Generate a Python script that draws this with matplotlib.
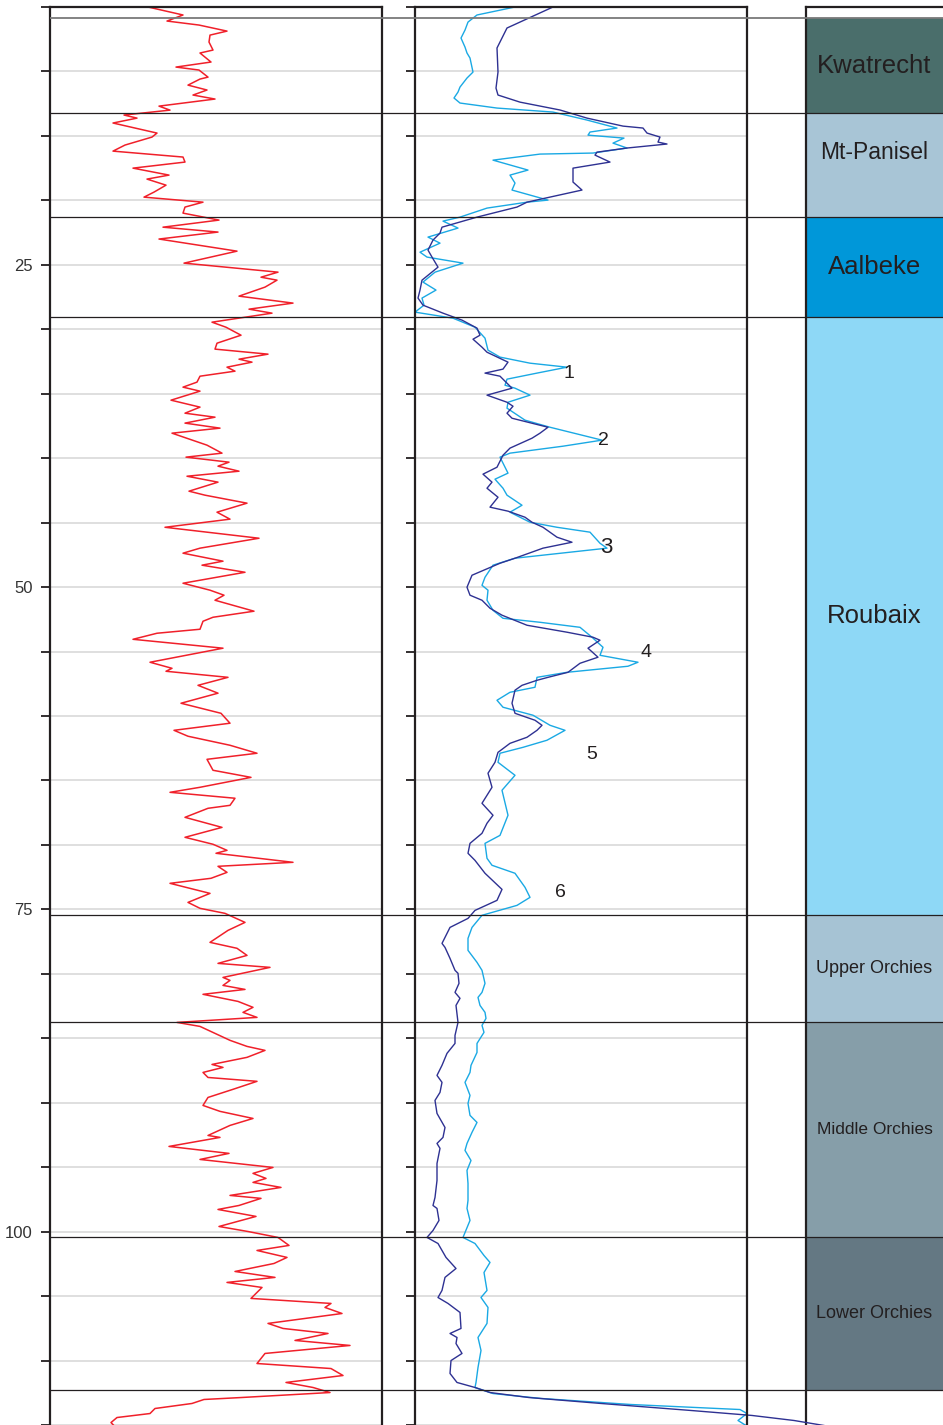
import numpy as np
import matplotlib.pyplot as plt

# Depth (m) and readings of the gamma-ray type log (left track)
red_depth = [5.00, 5.62, 6.09, 6.40, 6.87, 7.18, 7.72, 8.34, 8.57, 9.27, 9.66, 9.89, 10.44, 10.59,
             11.06, 11.44, 11.83, 12.14, 12.69, 13.00, 13.38, 13.62, 14.00, 14.78, 15.09, 15.71,
             16.18, 16.64, 17.03, 17.50, 18.04, 18.35, 18.82, 19.36, 19.75, 20.14, 20.52, 20.99,
             21.53, 22.08, 22.46, 23.00, 23.94, 24.87, 25.57, 25.96, 26.19, 26.73, 27.43, 27.97,
             28.44, 28.75, 29.45, 29.84, 30.46, 31.08, 31.54, 31.93, 32.32, 32.55, 32.94, 33.25,
             33.64, 34.10, 34.49, 34.80, 35.50, 36.04, 36.51, 36.82, 37.28, 37.67, 38.06, 38.99,
             39.61, 39.92, 40.31, 40.62, 41.01, 41.40, 41.86, 42.56, 42.87, 43.49, 44.19, 44.73,
             45.36, 46.21, 46.98, 47.37, 47.99, 48.30, 48.85, 49.70, 50.24, 50.63, 51.02, 51.87,
             52.34, 52.65, 53.27, 53.58, 54.05, 54.74, 55.83, 56.30, 56.53, 57.00, 57.62, 58.23,
             59.01, 59.79, 60.56, 61.11, 61.57, 62.27, 62.89, 63.36, 64.21, 64.76, 65.53, 65.92,
             66.38, 66.93, 67.16, 67.86, 68.64, 69.41, 69.95, 70.42, 70.65, 71.35, 71.66, 72.13,
             72.59, 72.98, 73.76, 74.46, 74.92, 75.31, 76.01, 76.63, 77.56, 78.02, 78.57, 79.19,
             79.50, 80.28, 80.51, 80.90, 81.21, 81.59, 82.14, 82.60, 82.99, 83.38, 83.77, 84.08,
             85.16, 85.63, 85.94, 86.48, 87.03, 87.26, 87.65, 88.04, 88.34, 88.96, 89.59, 90.21,
             90.67, 91.22, 91.76, 92.54, 92.69, 93.39, 93.93, 94.40, 95.02, 95.48, 95.87, 96.18,
             96.57, 97.19, 97.42, 97.97, 98.28, 98.82, 99.60, 99.99, 100.45, 101.07, 101.46,
             102.00, 102.47, 103.09, 103.55, 103.94, 104.33, 105.18, 105.57, 105.88, 106.35,
             107.12, 107.51, 107.90, 108.44, 108.83, 109.45, 110.23, 110.62, 111.16, 111.70,
             112.09, 112.48, 112.87, 113.02, 113.33, 113.72, 114.11, 114.42, 114.81, 115.05]
red_value = [98, 133, 117, 149, 177, 160, 159, 163, 150, 161, 126, 149, 158, 150,
             138, 157, 143, 165, 109, 120, 74, 87, 63, 107, 102, 75,
             63, 133, 135, 83, 119, 97, 116, 104, 94, 153, 135, 133,
             169, 113, 168, 109, 187, 134, 228, 211, 227, 215, 189, 243,
             199, 222, 162, 176, 191, 167, 165, 218, 189, 202, 177, 185,
             150, 147, 133, 150, 121, 150, 135, 165, 135, 170, 122, 157,
             172, 136, 179, 168, 189, 137, 168, 139, 155, 197, 167, 180,
             115, 209, 150, 133, 173, 152, 195, 133, 160, 174, 165, 204,
             163, 153, 150, 107, 83, 173, 100, 122, 116, 178, 148, 168,
             131, 171, 180, 124, 138, 180, 207, 157, 163, 201, 150, 120,
             185, 180, 158, 135, 172, 135, 163, 177, 166, 243, 168, 177,
             161, 120, 160, 138, 150, 175, 195, 178, 160, 187, 197, 168,
             220, 173, 180, 173, 195, 153, 188, 203, 193, 207, 127, 150,
             180, 197, 215, 197, 162, 173, 153, 158, 207, 183, 158, 153,
             170, 203, 180, 158, 170, 119, 179, 150, 223, 203, 216, 203,
             231, 180, 211, 189, 168, 206, 169, 198, 228, 239, 207,
             237, 224, 185, 225, 177, 212, 201, 281, 275, 292,
             218, 233, 278, 245, 300, 215, 207, 281, 293, 236,
             263, 280, 191, 154, 142, 105, 100, 67, 61, 64]

# Middle track: light blue log
cyan_depth = [5.00, 5.62, 6.17, 6.79, 7.41, 8.11, 8.57, 8.96, 10.05, 10.51, 11.21, 11.60, 12.06,
              12.45, 12.84, 13.15, 13.77, 14.39, 14.70, 14.94, 15.17, 15.56, 15.94, 16.33, 16.41,
              16.88, 17.65, 18.04, 18.66, 19.20, 19.98, 20.14, 20.60, 21.30, 21.61, 22.15, 22.85,
              23.32, 24.02, 24.40, 24.87, 25.57, 26.34, 26.96, 27.58, 28.13, 28.67, 29.14, 29.84,
              30.69, 31.62, 32.16, 32.63, 32.94, 33.40, 33.87, 34.34, 34.57, 35.11, 35.66, 36.12,
              37.05, 37.60, 38.60, 39.07, 39.61, 39.92, 41.16, 41.63, 42.33, 42.87, 43.65, 44.19,
              44.97, 45.36, 45.74, 46.60, 46.98, 47.14, 47.76, 48.30, 49.24, 49.86, 50.24, 51.02,
              51.80, 52.42, 52.73, 53.12, 53.89, 54.67, 55.29, 55.83, 56.14, 56.61, 57.00, 57.77,
              58.16, 58.78, 59.32, 59.94, 60.72, 61.11, 61.88, 62.43, 62.89, 63.59, 64.60, 65.76,
              67.70, 69.26, 69.88, 71.04, 71.58, 72.20, 73.29, 74.07, 74.69, 75.46, 76.40, 77.25,
              78.18, 79.11, 79.73, 80.74, 81.44, 81.83, 82.45, 82.99, 83.46, 84.00, 84.54, 85.40,
              86.10, 87.10, 87.65, 88.42, 89.43, 90.05, 90.98, 91.53, 92.30, 93.16, 93.70, 94.48,
              95.25, 96.26, 97.58, 98.20, 99.13, 100.45, 100.92, 101.85, 102.39, 103.17, 104.56,
              105.11, 105.88, 107.12, 108.21, 109.22, 110.54, 111.70, 112.09, 112.56, 112.94,
              113.41, 113.80, 114.11, 114.65, 115.04]
cyan_value = [100, 62, 53, 50, 46, 50, 52, 55, 58, 52, 45, 43, 39,
              45, 82, 138, 172, 202, 175, 173, 209, 198, 212, 178, 125,
              78, 113, 95, 100, 97, 133, 112, 72, 45, 28, 43, 13,
              25, 5, 12, 48, 20, 8, 21, 7, 9, 0, 38, 60,
              70, 73, 85, 115, 152, 122, 92, 90, 100, 115, 93, 92,
              110, 135, 187, 148, 95, 85, 93, 80, 88, 92, 107, 95,
              115, 142, 175, 185, 192, 173, 100, 78, 70, 67, 73, 72,
              78, 88, 125, 165, 177, 188, 185, 223, 213, 152, 122, 120,
              95, 82, 88, 118, 135, 150, 132, 108, 85, 83, 100, 87,
              93, 85, 70, 72, 77, 100, 110, 115, 102, 67, 57, 53,
              53, 62, 67, 70, 67, 63, 65, 70, 71, 67, 69, 62,
              62, 56, 55, 50, 55, 53, 55, 62, 57, 52, 50, 56,
              52, 53, 53, 52, 55, 48, 60, 69, 75, 69, 72,
              66, 73, 72, 63, 66, 63, 61, 60, 78, 126,
              216, 325, 332, 323, 331]

# Middle track: dark blue log
navy_depth = [5.00, 6.63, 8.18, 10.05, 11.29, 11.83, 12.38, 12.99, 13.62, 14.24, 14.39, 14.78,
              15.09, 15.48, 15.63, 15.94, 16.26, 16.49, 17.03, 17.50, 18.04, 18.58, 19.20, 20.14,
              20.52, 21.30, 22.08, 22.54, 23.08, 23.86, 24.40, 25.18, 26.19, 26.96, 27.58, 28.13,
              28.75, 29.29, 29.91, 30.46, 30.77, 31.39, 31.78, 32.55, 33.09, 33.40, 33.64, 34.57,
              35.11, 35.66, 35.97, 36.51, 36.90, 37.60, 38.06, 38.45, 39.22, 39.77, 40.70, 41.24,
              41.86, 42.33, 43.03, 43.80, 44.11, 44.58, 44.97, 45.36, 46.13, 46.52, 46.98, 47.76,
              48.15, 49.08, 50.01, 50.63, 51.02, 51.64, 52.18, 52.96, 53.50, 53.89, 54.12, 54.74,
              55.44, 55.91, 56.61, 57.00, 57.23, 57.62, 58.00, 59.01, 59.79, 60.33, 60.72, 61.11,
              61.65, 62.12, 62.82, 63.59, 64.44, 65.53, 66.77, 67.70, 68.32, 69.10, 69.88, 70.65,
              71.20, 72.20, 73.45, 74.30, 75.08, 75.70, 76.40, 77.64, 77.95, 78.80, 79.73, 79.96,
              80.74, 81.44, 81.90, 82.45, 83.77, 84.78, 85.40, 86.17, 87.10, 87.88, 88.42, 89.20,
              89.82, 90.83, 91.92, 92.69, 93.16, 93.54, 94.71, 96.03, 97.35, 97.97, 98.20, 99.13,
              99.91, 100.45, 100.92, 102.00, 102.86, 103.55, 104.56, 105.11, 105.57, 106.27,
              107.51, 107.90, 108.21, 108.68, 109.45, 110.00, 111.00, 111.70, 112.09, 112.48,
              112.87, 113.33, 113.88, 114.26, 114.65, 115.04]
navy_value = [138, 92, 82, 83, 81, 83, 105, 145, 172, 208, 228, 232,
              245, 243, 252, 212, 182, 180, 195, 158, 158, 158, 167, 112,
              102, 62, 27, 25, 18, 13, 17, 23, 7, 5, 3, 8,
              28, 47, 62, 65, 58, 67, 72, 93, 88, 70, 85, 97,
              72, 92, 98, 92, 97, 133, 125, 117, 95, 88, 82, 68,
              77, 72, 83, 75, 93, 110, 117, 128, 142, 157, 128, 100,
              85, 57, 52, 55, 67, 75, 87, 112, 152, 178, 185, 173,
              183, 165, 153, 133, 122, 107, 100, 97, 100, 120, 127, 122,
              112, 95, 83, 80, 73, 77, 67, 78, 72, 67, 55, 53,
              60, 70, 87, 82, 60, 53, 35, 27, 30, 35, 40, 43,
              44, 40, 45, 41, 43, 40, 40, 32, 27, 22, 27, 25,
              20, 22, 30, 28, 22, 25, 22, 22, 20, 18, 22, 24,
              18, 12, 23, 31, 41, 30, 27, 23, 33, 45,
              46, 35, 42, 41, 47, 36, 35, 42, 60, 75,
              114, 186, 277, 337, 379, 409]

# Formations (top / base depth in m)
formations = ["Kwatrecht", "Mt-Panisel", "Aalbeke", "Roubaix",
              "Upper Orchies", "Middle Orchies", "Lower Orchies"]
form_top = [5.86, 13.23, 21.30, 29.06, 75.46, 83.77, 100.45]
form_base = [13.23, 21.30, 29.06, 75.46, 83.77, 100.45, 112.32]
form_colors = ["#4a6e6b", "#a8c5d6", "#0097d9", "#8ed8f6", "#a6c3d4", "#869ea9", "#647883"]

# Numbered peaks in the middle track
peak_labels = ["1", "2", "3", "4", "5", "6"]
peak_depth = [33.4, 38.6, 46.9, 55.05, 62.97, 73.68]
peak_value = [154, 188, 191, 231, 177, 145]

fig = plt.figure(figsize=(9.43, 14.25), dpi=100)
H = 1418 / 1425
FW = 943.0
spine_col = "#231f20"
ylim = (115, 5)
ticks = np.arange(5, 116, 5)

ax1 = fig.add_axes([50 / FW, 0, 332 / FW, H])
ax2 = fig.add_axes([415 / FW, 0, 332 / FW, H])
ax3 = fig.add_axes([806 / FW, 0, 137 / FW, H])
for ax in (ax1, ax2, ax3):
    ax.set_ylim(*ylim)
    ax.set_facecolor("none")
    ax.spines["bottom"].set_visible(False)
    for s in ("left", "right", "top"):
        ax.spines[s].set_color(spine_col)
        ax.spines[s].set_linewidth(1.6)
    ax.set_xticks([])

for ax in (ax1, ax2):
    ax.set_xlim(0, 332)
    ax.set_yticks(ticks)
    ax.grid(axis="y", color="#d6d6d6", linewidth=1.1)
    ax.set_axisbelow(True)
    ax.tick_params(axis="y", direction="out", length=6.5, width=1.3, color=spine_col,
                   labelsize=12, labelcolor="#333333", pad=6)

ax1.set_yticklabels([str(t) if t in (25, 50, 75, 100) else "" for t in ticks],
                    fontfamily="Liberation Sans")
ax2.set_yticklabels([])

# Logs
ax1.plot(red_value, red_depth, color="#f0202a", linewidth=1.1)
ax2.plot(cyan_value, cyan_depth, color="#1aa9e4", linewidth=1.0)
ax2.plot(navy_value, navy_depth, color="#2e3192", linewidth=1.0, clip_on=False)
ax2.set_zorder(4)

for lab, d, v in zip(peak_labels, peak_depth, peak_value):
    ax2.text(v, d, lab, fontsize=16 if lab == "3" else 14, color="#231f20",
             ha="center", va="center", fontfamily="Liberation Sans")

# Formation column
ax3.set_xlim(0, 1)
ax3.set_yticks([])
ax3.spines["right"].set_visible(False)
label_depth = [(t + b) / 2 for t, b in zip(form_top, form_base)]
label_depth[1] = 16.3
for name, t, b, c, ld in zip(formations, form_top, form_base, form_colors, label_depth):
    ax3.axhspan(t, b, color=c, linewidth=0)
    if "Orchies" in name:
        fs = 12.5 if name == "Middle Orchies" else 13
    elif name == "Mt-Panisel":
        fs = 16.5
    else:
        fs = 18.5
    ax3.text(0.5, ld, name, ha="center", va="center", fontsize=fs, color="#231f20",
             fontfamily="Liberation Sans")

# Formation boundaries across all tracks
axl = fig.add_axes([50 / FW, 0, 893 / FW, H])
axl.set_ylim(*ylim)
axl.axis("off")
axl.set_zorder(6)
for i, t in enumerate(form_top):
    axl.axhline(t, color="#7a7a7a" if i == 0 else spine_col,
                linewidth=1.3 if i == 0 else 0.9)
axl.axhline(form_base[-1], color=spine_col, linewidth=0.9)

plt.savefig("out.png", dpi=100)
